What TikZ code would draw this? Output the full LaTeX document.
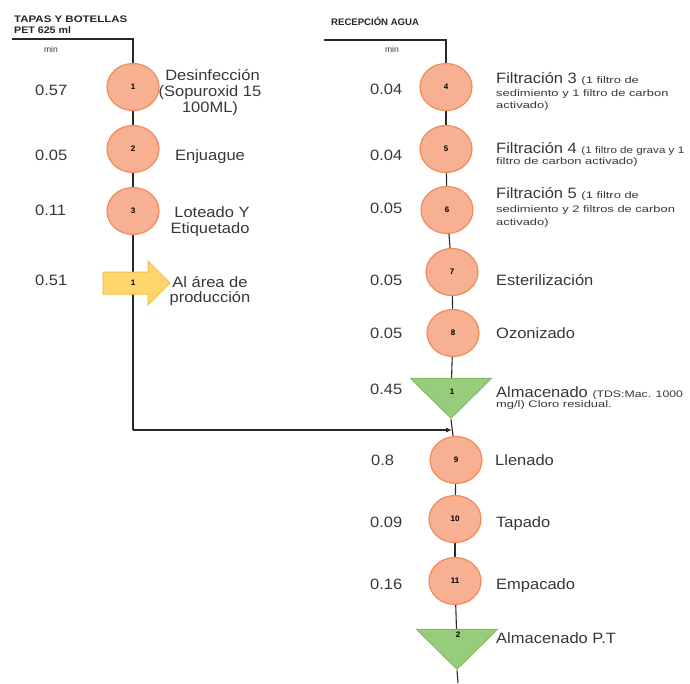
\documentclass[tikz,border=0pt]{standalone}
\usepackage{fontspec}
\setmainfont{Liberation Sans}
\newfontfamily\bigf[FakeStretch=1.1]{Liberation Sans}
\newfontfamily\smf[FakeStretch=1.36]{Liberation Sans}
\newfontfamily\hdf[FakeStretch=1.12]{Liberation Sans}
\usetikzlibrary{shapes.geometric,shapes.arrows,arrows.meta,backgrounds}
\definecolor{circfill}{RGB}{247,176,146}
\definecolor{circdraw}{RGB}{240,140,92}
\definecolor{trifill}{RGB}{150,204,122}
\definecolor{tridraw}{RGB}{125,185,100}
\definecolor{arrfill}{RGB}{255,214,110}
\definecolor{arrdraw}{RGB}{248,190,70}
\definecolor{linec}{RGB}{40,40,40}
\definecolor{txtc}{RGB}{55,55,55}
\tikzset{
  circ/.style={ellipse, fill=circfill, draw=circdraw, line width=1.2pt, minimum width=52pt, minimum height=47pt, inner sep=0pt, font=\fontsize{8}{9}\selectfont\bfseries},
  tri/.style={isosceles triangle, isosceles triangle stretches, shape border rotate=270, fill=trifill, draw=tridraw, line width=0.8pt, minimum width=81pt, minimum height=40pt, inner sep=0pt},
  yarrow/.style={single arrow, fill=arrfill, draw=arrdraw, line width=1pt, minimum height=67pt, inner xsep=0pt, inner ysep=10.5pt, text height=0pt, text depth=0pt, text width=0pt, single arrow head extend=11pt},
  tag/.style={font=\fontsize{8}{9}\selectfont\bfseries, inner sep=0pt},
  conn/.style={draw=linec, line width=1.1pt},
  big/.style={font=\bigf\fontsize{15}{16}\selectfont, text=txtc, inner sep=0pt},
  bw/.style={big, anchor=base west},
  bc/.style={big, anchor=base},
  head/.style={font=\hdf\fontsize{9.5}{10}\selectfont\bfseries, text=black!85, inner sep=0pt, anchor=base west},
  minl/.style={font=\fontsize{8.5}{10}\selectfont, text=txtc, inner sep=0pt, anchor=base}
}
\newcommand{\smtxt}[1]{{\smf\fontsize{9.5}{10}\selectfont #1}}
\begin{document}
\begin{tikzpicture}[x=1pt,y=-1pt]
\useasboundingbox (0,0) rectangle (690,683);
% headers
\node[head] (h1) at (14,22) {\scalebox{1.08}[1]{TAPAS Y BOTELLAS}};
\node[head] (h2) at (14,33) {PET 625 ml};
\node[head] (h3) at (331,25) {\scalebox{0.9}[1]{RECEPCIÓN AGUA}};
\node[minl] (m1) at (51,52) {min};
\node[minl] (m2) at (392,52) {min};
% left column
\node[circ] (c1) at (133,87) {1};
\node[circ] (c2) at (133,149) {2};
\node[circ] (c3) at (133,211) {3};
\node[yarrow] (a1) at (131,283) {};
\node[tag] (a1t) at (133,283) {1};
\coordinate (L0) at (12,39);
\coordinate (L1) at (133,39);
\coordinate (L2) at (133,430);
% right column
\coordinate (R0) at (324,40);
\coordinate (R1) at (446,40);
\node[circ] (c4) at (446,87) {4};
\node[circ] (c5) at (446,149) {5};
\node[circ] (c6) at (447,210) {6};
\node[circ] (c7) at (452,272) {7};
\node[circ] (c8) at (453,333) {8};
\node[tri] (t1) at (451,395) {};
\node[tag] (t1t) at (452,392) {1};
\node[circ] (c9) at (456,460) {9};
\node[circ] (c10) at (455,519) {10};
\node[circ] (c11) at (455,581) {11};
\node[tri] (t2) at (457,646) {};
\node[tag] (t2t) at (458,635) {2};
\coordinate (R2) at (452,430);
\coordinate (R3) at (458,683);
% connectors
\begin{scope}[on background layer]
\draw[conn] (L0) -- (L1) -- (c1);
\draw[conn] (c1) -- (c2);
\draw[conn] (c2) -- (c3);
\draw[conn] (c3) -- (L2);
\draw[conn, -{Latex[length=6pt,width=5pt]}] (L2) -- (R2);
\draw[conn] (R0) -- (R1) -- (c4);
\draw[conn] (c4) -- (c5);
\draw[conn] (c5) -- (c6);
\draw[conn] (c6) -- (c7);
\draw[conn] (c7) -- (c8);
\draw[conn] (c8) -- (t1);
\draw[conn] (t1.apex) -- (c9);
\draw[conn] (c9) -- (c10);
\draw[conn] (c10) -- (c11);
\draw[conn] (c11) -- (t2);
\draw[conn] (t2.apex) -- (R3);
\end{scope}
% left numbers
\node[bw] (n1) at (35,95) {0.57};
\node[bw] (n2) at (35,160) {0.05};
\node[bw] (n3) at (35,215) {0.11};
\node[bw] (n4) at (35,285) {0.51};
% left labels
\node[bc] (l1a) at (212.5,80) {Desinfección};
\node[bc] (l1b) at (210,96) {(Sopuroxid 15};
\node[bc] (l1c) at (210,112) {100ML)};
\node[bc] (l2) at (210,160) {Enjuague};
\node[bc] (l3a) at (212,217) {Loteado Y};
\node[bc] (l3b) at (210,233) {Etiquetado};
\node[bc] (l4a) at (210,287) {Al área de};
\node[bc] (l4b) at (210,302) {producción};
% right numbers
\node[bw] (n5) at (370,94) {0.04};
\node[bw] (n6) at (370,160) {0.04};
\node[bw] (n7) at (370,213) {0.05};
\node[bw] (n8) at (370,285) {0.05};
\node[bw] (n9) at (370,338) {0.05};
\node[bw] (n10) at (370,394) {0.45};
\node[bw] (n11) at (371,465) {0.8};
\node[bw] (n12) at (370,527) {0.09};
\node[bw] (n13) at (370,589) {0.16};
% right labels
\node[bw] (r1a) at (496,83) {Filtración 3 \smtxt{(1 filtro de}};
\node[bw] (r1b) at (496,96) {\smtxt{sedimiento y 1 filtro de carbon}};
\node[bw] (r1c) at (496,108) {\smtxt{activado)}};
\node[bw] (r2a) at (496,153) {Filtración 4 \scalebox{0.9}[1]{\smtxt{(1 filtro de grava y 1}}};
\node[bw] (r2b) at (496,164) {\smtxt{filtro de carbon activado)}};
\node[bw] (r3a) at (496,198) {Filtración 5 \smtxt{(1 filtro de}};
\node[bw] (r3b) at (496,212) {\smtxt{sedimiento y 2 filtros de carbon}};
\node[bw] (r3c) at (496,225) {\smtxt{activado)}};
\node[bw] (r4) at (496,285) {Esterilización};
\node[bw] (r5) at (496,338) {Ozonizado};
\node[bw] (r6a) at (496,397) {Almacenado \scalebox{0.95}[1]{\smtxt{(TDS:Mac. 1000}}};
\node[bw] (r6b) at (496,407) {\smtxt{mg/l) Cloro residual.}};
\node[bw] (r7) at (495,465) {Llenado};
\node[bw] (r8) at (496,527) {Tapado};
\node[bw] (r9) at (496,589) {Empacado};
\node[bw] (r10) at (496,643) {Almacenado P.T};
\end{tikzpicture}
\end{document}
